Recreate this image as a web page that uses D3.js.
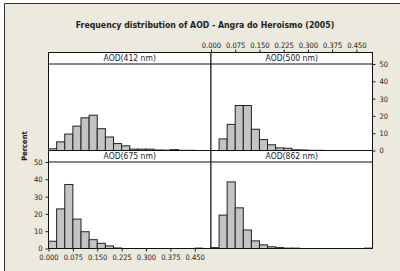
<!DOCTYPE html>
<html>
<head>
<meta charset="utf-8">
<script src="https://cdn.jsdelivr.net/npm/d3@7"></script>
<style>
  body { margin: 0; background: #fff; }
  text { font-family: "DejaVu Sans Condensed", "Liberation Sans", sans-serif; fill: #222; }
</style>
</head>
<body>
<div id="chart"></div>
<script>
// histogram bins (lower edges), width 0.025
const binStarts = [0, 0.025, 0.05, 0.075, 0.1, 0.125, 0.15, 0.175, 0.2, 0.225,
                   0.25, 0.275, 0.3, 0.325, 0.35, 0.375, 0.4, 0.425, 0.45, 0.475];
const binWidth = 0.025;

// percent per bin
const pct412 = [1.0, 5.0, 9.5, 14.1, 18.9, 20.4, 12.6, 7.8, 4.0, 2.7, 0.8, 0.8, 0.8, 0.3, 0.2, 0.5, 0.1, 0.1, 0, 0];
const pct500 = [0, 6.7, 15.1, 26.0, 26.0, 12.3, 6.3, 3.3, 1.5, 1.3, 0.4, 0.3, 0.1, 0.1, 0, 0, 0, 0, 0, 0];
const pct675 = [4.2, 22.9, 37.0, 17.0, 9.7, 5.1, 3.0, 1.5, 0.3, 0, 0, 0, 0, 0, 0, 0, 0, 0, 0.2, 0];
const pct862 = [0.5, 19.3, 38.5, 23.5, 10.7, 4.4, 2.1, 1.0, 0.5, 0.2, 0.2, 0, 0, 0, 0, 0, 0, 0, 0, 0.2];

const panelNames = ["AOD(412 nm)", "AOD(500 nm)", "AOD(675 nm)", "AOD(862 nm)"];
const xTicks = [0, 0.075, 0.15, 0.225, 0.3, 0.375, 0.45];
const yTicks = [0, 10, 20, 30, 40, 50];

const W = 400, H = 271;
const svg = d3.select("#chart").append("svg")
    .attr("width", W)
    .attr("height", H);

// window background
svg.append("rect").attr("x", 4).attr("y", 3).attr("width", W - 4).attr("height", H - 3)
    .attr("fill", "#ece9df");
svg.append("path").attr("d", "M4.5," + H + "V3.5H" + W)
    .attr("fill", "none").attr("stroke", "#333").attr("stroke-width", 1);

svg.append("text")
    .attr("x", 205).attr("y", 28)
    .attr("text-anchor", "middle")
    .attr("font-weight", "bold")
    .attr("font-size", 8.7)
    .text("Frequency distribution of AOD - Angra do Heroismo (2005)");

const left = 48.5, mid = 211, right = 372.5;
const top0 = 52.5, stripH = 11.5;
const rows = [{ y0: top0 + stripH, y1: 150.5 }, { y0: 150.5 + stripH, y1: 248.5 }];
const cols = [{ x0: left, x1: mid }, { x0: mid, x1: right }];

const series = [pct412, pct500, pct675, pct862];

series.forEach(function(vals, i) {
  const r = rows[Math.floor(i / 2)], c = cols[i % 2];
  const x = d3.scaleLinear().domain([0, 0.5]).range([c.x0, c.x1]);
  const y = d3.scaleLinear().domain([0, 50]).range([r.y1, r.y0]);
  const g = svg.append("g");

  // panel background
  g.append("rect").attr("x", c.x0).attr("y", r.y0 - stripH)
      .attr("width", c.x1 - c.x0).attr("height", r.y1 - r.y0 + stripH)
      .attr("fill", "#fff");

  g.selectAll("rect.bar")
    .data(binStarts.map(function(b, k) { return { b: b, v: vals[k] }; }))
    .enter().append("rect")
      .attr("class", "bar")
      .attr("x", function(d) { return x(d.b); })
      .attr("width", function(d) { return x(d.b + binWidth) - x(d.b); })
      .attr("y", function(d) { return y(d.v); })
      .attr("height", function(d) { return y(0) - y(d.v); })
      .attr("fill", "#c4c4c4")
      .attr("stroke", "#222")
      .attr("stroke-width", 1);

  // strip
  g.append("line").attr("x1", c.x0).attr("x2", c.x1)
      .attr("y1", r.y0).attr("y2", r.y0).attr("stroke", "#111");
  g.append("text")
      .attr("x", (c.x0 + c.x1) / 2).attr("y", r.y0 - 3)
      .attr("text-anchor", "middle")
      .attr("font-size", 8.5)
      .text(panelNames[i]);

  g.append("rect").attr("x", c.x0).attr("y", r.y0 - stripH)
      .attr("width", c.x1 - c.x0).attr("height", r.y1 - r.y0 + stripH)
      .attr("fill", "none").attr("stroke", "#111");

  const fmt = d3.format(".3f");
  if (i === 1) {
    // top axis and right axis
    g.append("g").attr("transform", "translate(0," + (r.y0 - stripH) + ")")
      .call(d3.axisTop(x).tickValues(xTicks).tickFormat(fmt).tickSize(3).tickPadding(2))
      .call(styleAxis);
    g.append("g").attr("transform", "translate(" + c.x1 + ",0)")
      .call(d3.axisRight(y).tickValues(yTicks).tickSize(3).tickPadding(4))
      .call(styleAxis);
  }
  if (i === 2) {
    g.append("g").attr("transform", "translate(0," + r.y1 + ")")
      .call(d3.axisBottom(x).tickValues(xTicks).tickFormat(fmt).tickSize(3).tickPadding(3))
      .call(styleAxis);
    g.append("g").attr("transform", "translate(" + c.x0 + ",0)")
      .call(d3.axisLeft(y).tickValues(yTicks).tickSize(3).tickPadding(3))
      .call(styleAxis);
  }
});

function styleAxis(sel) {
  sel.select(".domain").remove();
  sel.selectAll("line").attr("stroke", "#222");
  sel.selectAll("text").attr("font-size", 7.5).attr("fill", "#222")
      .style("font-family", '"DejaVu Sans Condensed", "Liberation Sans", sans-serif');
}

svg.append("text")
    .attr("transform", "translate(27,146) rotate(-90)")
    .attr("text-anchor", "middle")
    .attr("font-weight", "bold")
    .attr("font-size", 7.5)
    .text("Percent");
</script>
</body>
</html>
